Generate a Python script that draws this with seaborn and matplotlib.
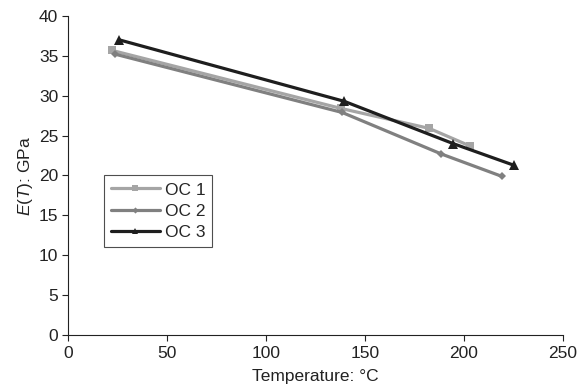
import matplotlib
matplotlib.use("Agg")
import matplotlib.pyplot as plt
import seaborn as sns
import pandas as pd

# Elastic modulus vs temperature for three specimens
oc1_temp = [22, 138, 182.5, 203]
oc1_mod = [35.7, 28.4, 25.9, 23.7]
oc2_temp = [24, 138.5, 188.5, 219]
oc2_mod = [35.2, 27.9, 22.7, 19.9]
oc3_temp = [26, 139.5, 194.5, 225]
oc3_mod = [37.0, 29.3, 24.0, 21.3]
series_names = ["OC 1", "OC 2", "OC 3"]

df = pd.concat([
    pd.DataFrame({"T": oc1_temp, "E": oc1_mod, "series": series_names[0]}),
    pd.DataFrame({"T": oc2_temp, "E": oc2_mod, "series": series_names[1]}),
    pd.DataFrame({"T": oc3_temp, "E": oc3_mod, "series": series_names[2]}),
], ignore_index=True)

sns.set_style("ticks")
plt.rcParams["font.family"] = ["Liberation Sans", "DejaVu Sans"]
plt.rcParams["mathtext.fontset"] = "custom"
plt.rcParams["mathtext.rm"] = "Liberation Sans"
plt.rcParams["mathtext.it"] = "Liberation Sans:italic"

FS = 12.5
TXT = "#222222"

fig = plt.figure(figsize=(5.79, 3.87), dpi=100)
ax = fig.add_axes([0.1174, 0.1344, 0.8550, 0.8243])

palette = {"OC 1": "#a5a5a5", "OC 2": "#808080", "OC 3": "#1e1e1e"}
markers = {"OC 1": "s", "OC 2": "D", "OC 3": "^"}
sizes = {"OC 1": 6, "OC 2": 4.5, "OC 3": 7}

for name in series_names:
    sub = df[df["series"] == name]
    sns.lineplot(data=sub, x="T", y="E", ax=ax, color=palette[name],
                 marker=markers[name], markersize=sizes[name],
                 markeredgewidth=0, linewidth=2.3, label=name,
                 sort=False, estimator=None)

ax.set_xlim(0, 250)
ax.set_ylim(0, 40)
ax.set_xticks(range(0, 251, 50))
ax.set_yticks(range(0, 41, 5))
ax.tick_params(axis="both", labelsize=FS, length=4, width=0.8,
               colors=TXT)
ax.tick_params(axis="x", pad=4)
ax.tick_params(axis="y", pad=3)
for s in ["top", "right"]:
    ax.spines[s].set_visible(False)
for s in ["left", "bottom"]:
    ax.spines[s].set_linewidth(0.8)
    ax.spines[s].set_color(TXT)

ax.set_xlabel("Temperature: °C", fontsize=FS, color=TXT, labelpad=6)
ax.set_ylabel("$\\mathit{E}$($\\mathit{T}$): GPa", fontsize=FS,
              color=TXT, labelpad=3)

leg = ax.legend(loc="lower left", bbox_to_anchor=(0.073, 0.276),
                fontsize=FS, frameon=True, fancybox=False,
                borderpad=0.4, labelspacing=0.35, handlelength=2.8,
                handletextpad=0.3, borderaxespad=0, markerscale=0.7)
leg.get_frame().set_edgecolor(TXT)
leg.get_frame().set_linewidth(0.8)

fig.savefig("out.png", dpi=100)
